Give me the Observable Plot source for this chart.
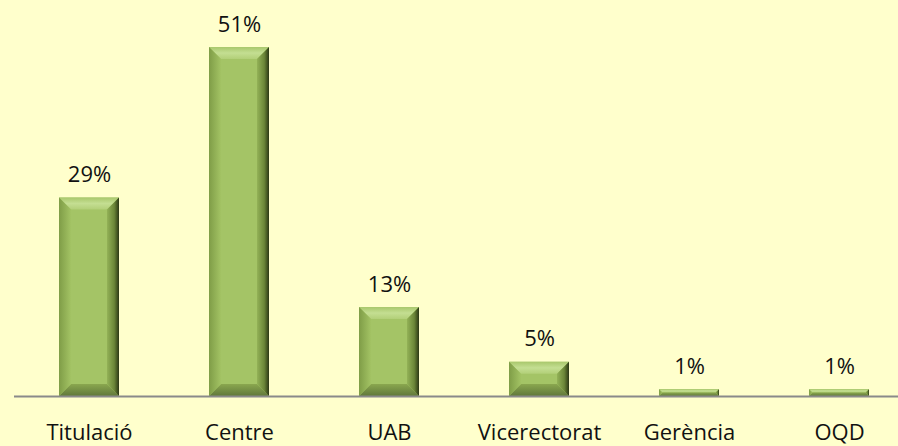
<!DOCTYPE html>
<html>
<head>
<meta charset="utf-8">
<script src="https://cdn.jsdelivr.net/npm/d3@7"></script>
<script src="https://cdn.jsdelivr.net/npm/@observablehq/plot@0.6"></script>
<style>
  html, body { margin: 0; padding: 0; background: #FFFFCC; }
  #chart svg { display: block; }
</style>
</head>
<body>
<div id="chart"></div>
<script>
const categories = ["Titulació", "Centre", "UAB", "Vicerectorat", "Gerència", "OQD"];
const values = [29, 51, 13, 5, 1, 1];
const labels = ["29%", "51%", "13%", "5%", "1%", "1%"];

const data = categories.map((c, i) => ({category: c, value: values[i], label: labels[i]}));

const plot = Plot.plot({
  width: 898,
  height: 446,
  marginLeft: 14,
  marginRight: 0,
  marginTop: 0,
  marginBottom: 50,
  style: {background: "#FFFFCC", fontFamily: "'Open Sans', sans-serif", color: "#111"},
  x: {domain: categories, range: [14, 914], paddingInner: 0.6, paddingOuter: 0.3, label: null},
  y: {domain: [0, 51], range: [396, 47], axis: null},
  marks: [
    Plot.barY(data, {x: "category", y: "value", fill: "#A4C466", className: "bevel-bar"}),
    Plot.ruleY([0], {stroke: "#8a8a8a", strokeWidth: 2}),
    Plot.text(data, {x: "category", y: "value", text: "label", dy: -23, fontSize: 22, fill: "#111"}),
    Plot.axisX({tickSize: 0, tickPadding: 28, fontSize: 22, fill: "#111", label: null})
  ]
});

document.getElementById("chart").appendChild(plot);

// Bevel styling for each bar drawn by Plot
const ns = "http://www.w3.org/2000/svg";
const defs = document.createElementNS(ns, "defs");
defs.innerHTML = `
  <linearGradient id="gTop" x1="0" y1="0" x2="0" y2="1">
    <stop offset="0" stop-color="#a9c86c"/><stop offset="0.5" stop-color="#c4de92"/><stop offset="1" stop-color="#b2cf78"/>
  </linearGradient>
  <linearGradient id="gBottom" x1="0" y1="0" x2="0" y2="1">
    <stop offset="0" stop-color="#8aa74f"/><stop offset="1" stop-color="#61783a"/>
  </linearGradient>
  <linearGradient id="gLeft" x1="0" y1="0" x2="1" y2="0">
    <stop offset="0" stop-color="#7f9d47"/><stop offset="1" stop-color="#a3c364"/>
  </linearGradient>
  <linearGradient id="gRight" x1="0" y1="0" x2="1" y2="0">
    <stop offset="0" stop-color="#93b257"/><stop offset="0.6" stop-color="#6b8638"/><stop offset="1" stop-color="#2c3815"/>
  </linearGradient>`;
plot.insertBefore(defs, plot.firstChild);

plot.querySelectorAll(".bevel-bar rect").forEach(r => {
  const x = +r.getAttribute("x"), y = +r.getAttribute("y");
  const w = +r.getAttribute("width"), h = +r.getAttribute("height");
  const b = Math.min(12, h / 2, w / 2);
  const g = r.parentNode;
  const poly = (pts, fill) => {
    const p = document.createElementNS(ns, "polygon");
    p.setAttribute("points", pts.map(q => q.join(",")).join(" "));
    p.setAttribute("fill", fill);
    g.appendChild(p);
  };
  poly([[x, y], [x + w, y], [x + w - b, y + b], [x + b, y + b]], "url(#gTop)");
  poly([[x, y + h], [x + w, y + h], [x + w - b, y + h - b], [x + b, y + h - b]], "url(#gBottom)");
  poly([[x, y], [x + b, y + b], [x + b, y + h - b], [x, y + h]], "url(#gLeft)");
  poly([[x + w, y], [x + w - b, y + b], [x + w - b, y + h - b], [x + w, y + h]], "url(#gRight)");
});
</script>
</body>
</html>
